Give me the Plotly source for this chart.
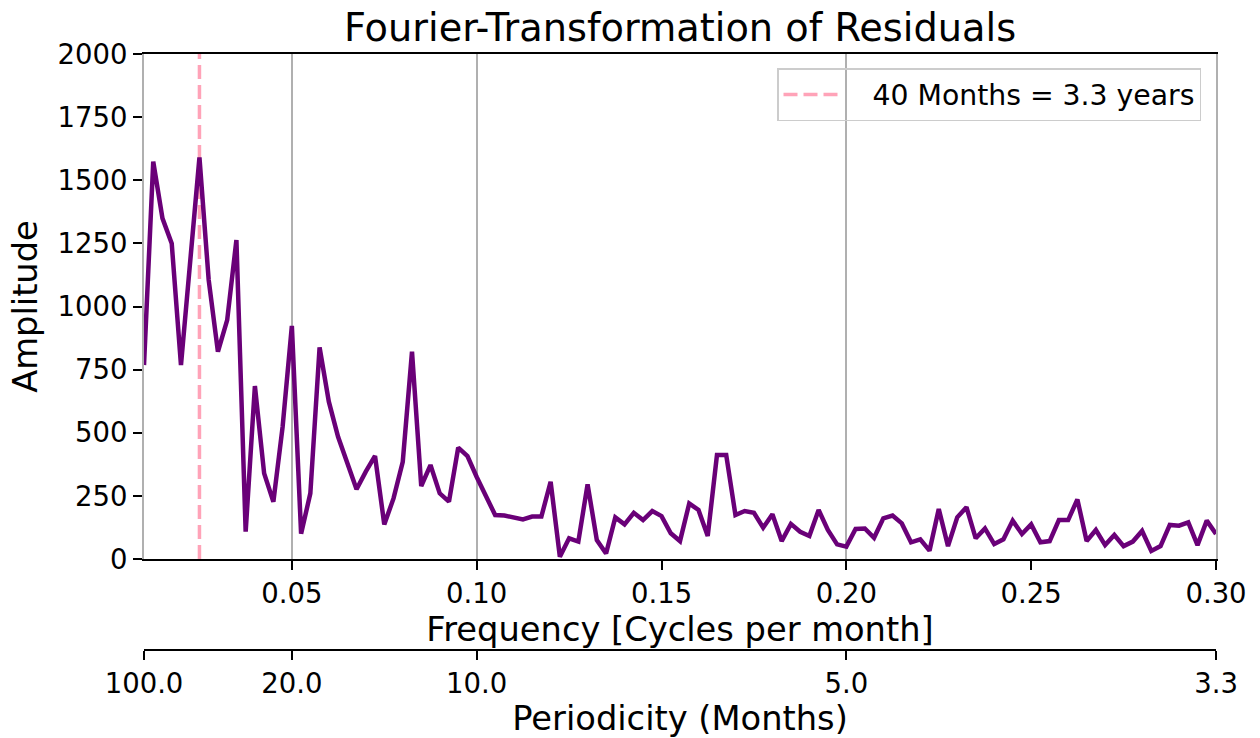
import plotly.graph_objects as go

# Frequency bins (cycles per month) of the residual spectrum
freq = [
    0.0100, 0.0125, 0.0150, 0.0175, 0.0200, 0.0225, 0.0250, 0.0275, 0.0300, 0.0325,
    0.0350, 0.0375, 0.0400, 0.0425, 0.0450, 0.0475, 0.0500, 0.0525, 0.0550, 0.0575,
    0.0600, 0.0625, 0.0650, 0.0675, 0.0700, 0.0725, 0.0750, 0.0775, 0.0800, 0.0825,
    0.0850, 0.0875, 0.0900, 0.0925, 0.0950, 0.0975, 0.1000, 0.1025, 0.1050, 0.1075,
    0.1100, 0.1125, 0.1150, 0.1175, 0.1200, 0.1225, 0.1250, 0.1275, 0.1300, 0.1325,
    0.1350, 0.1375, 0.1400, 0.1425, 0.1450, 0.1475, 0.1500, 0.1525, 0.1550, 0.1575,
    0.1600, 0.1625, 0.1650, 0.1675, 0.1700, 0.1725, 0.1750, 0.1775, 0.1800, 0.1825,
    0.1850, 0.1875, 0.1900, 0.1925, 0.1950, 0.1975, 0.2000, 0.2025, 0.2050, 0.2075,
    0.2100, 0.2125, 0.2150, 0.2175, 0.2200, 0.2225, 0.2250, 0.2275, 0.2300, 0.2325,
    0.2350, 0.2375, 0.2400, 0.2425, 0.2450, 0.2475, 0.2500, 0.2525, 0.2550, 0.2575,
    0.2600, 0.2625, 0.2650, 0.2675, 0.2700, 0.2725, 0.2750, 0.2775, 0.2800, 0.2825,
    0.2850, 0.2875, 0.2900, 0.2925, 0.2950, 0.2975, 0.3000,
]

# FFT amplitude at each frequency bin
amplitude = [
    768, 1574, 1349, 1250, 768, 1180, 1590, 1105, 821, 946,
    1263, 108, 685, 339, 227, 524, 923, 100, 260, 838,
    623, 484, 379, 276, 346, 408, 137, 240, 385, 821,
    289, 372, 260, 227, 441, 408, 325, 250, 174, 172,
    164, 157, 168, 168, 306, 9, 82, 69, 296, 75,
    22, 165, 137, 183, 154, 190, 170, 102, 71, 220,
    194, 91, 412, 412, 174, 190, 183, 124, 177, 71,
    139, 108, 91, 194, 115, 58, 49, 119, 121, 84,
    161, 172, 141, 66, 78, 33, 198, 51, 165, 205,
    82, 121, 59, 78, 152, 99, 137, 66, 71, 154,
    154, 236, 71, 115, 55, 95, 51, 69, 111, 32,
    51, 135, 132, 145, 55, 152, 99,
]

# Axis ticks
freq_ticks = [0.05, 0.10, 0.15, 0.20, 0.25, 0.30]
freq_tick_labels = ["0.05", "0.10", "0.15", "0.20", "0.25", "0.30"]
period_ticks = [0.01, 0.05, 0.10, 0.20, 0.30]
period_tick_labels = ["100.0", "20.0", "10.0", "5.0", "3.3"]
amp_ticks = [0, 250, 500, 750, 1000, 1250, 1500, 1750, 2000]

# Highlighted cycle
marked_period_months = 40
marked_label = "40 Months = 3.3 years"

FONT = "DejaVu Sans"
PURPLE = "#6a0078"
PINK = "#ffa3b8"
GRID = "#b0b0b0"
NBSP = "\u00a0"

fig = go.Figure()

marked_freq = 1 / marked_period_months
fig.add_trace(go.Scatter(
    x=[marked_freq, marked_freq], y=[amp_ticks[0], amp_ticks[-1]],
    mode="lines", name=NBSP * 3 + marked_label,
    line=dict(color=PINK, width=3.5, dash="14px,6px"),
    xaxis="x", yaxis="y",
))

fig.add_trace(go.Scatter(
    x=freq, y=amplitude, mode="lines", showlegend=False,
    line=dict(color=PURPLE, width=4.5),
    xaxis="x", yaxis="y",
))

# invisible trace so the periodicity axis is rendered
fig.add_trace(go.Scatter(
    x=freq, y=amplitude, mode="lines", showlegend=False, hoverinfo="skip",
    line=dict(color="rgba(0,0,0,0)", width=0),
    xaxis="x2", yaxis="y",
))

plot_top, plot_bottom, paper_bottom = 54, 559, 650
y_dom0 = (paper_bottom - plot_bottom) / (paper_bottom - plot_top)

fig.update_layout(
    width=1260, height=738,
    margin=dict(l=144, r=44, t=plot_top, b=738 - paper_bottom),
    paper_bgcolor="white", plot_bgcolor="white",
    font=dict(family=FONT, color="black", size=27),
    title=dict(
        text="Fourier-Transformation of Residuals",
        font=dict(family=FONT, size=38.3, color="black"),
        x=0.5, xref="paper", xanchor="center",
        y=1 - 28 / 738, yref="container", yanchor="middle",
    ),
    xaxis=dict(
        range=[0.01, 0.30], tickvals=freq_ticks, ticktext=freq_tick_labels,
        showgrid=False, zeroline=False, automargin=False,
        showline=True, linecolor="black", linewidth=2, mirror=True,
        ticks="outside", ticklen=9, tickwidth=2, tickcolor="black",
        tickfont=dict(size=27.5),
        anchor="y",
        title=dict(text="Frequency [Cycles per month]", font=dict(size=33.7), standoff=9),
    ),
    xaxis2=dict(
        range=[0.01, 0.30], tickvals=period_ticks, ticktext=period_tick_labels,
        overlaying="x", anchor="free", position=0, side="bottom",
        showgrid=True, gridcolor=GRID, gridwidth=2, zeroline=False, automargin=False,
        showline=True, linecolor="black", linewidth=2,
        ticks="outside", ticklen=9, tickwidth=2, tickcolor="black",
        tickfont=dict(size=27.5),
        title=dict(text="Periodicity (Months)", font=dict(size=33.7), standoff=8),
    ),
    yaxis=dict(
        domain=[y_dom0, 1], range=[0, 2000], tickvals=amp_ticks,
        showgrid=False, zeroline=False, automargin=False,
        showline=True, linecolor=GRID, linewidth=2, mirror=True,
        ticks="outside", ticklen=9, tickwidth=2, tickcolor="black",
        tickfont=dict(size=27.5),
        title=dict(text="Amplitude", font=dict(size=33.7), standoff=10),
    ),
    legend=dict(
        x=(1201 - 144) / 1072, xanchor="right",
        y=1 - (68 - 54) / 596, yanchor="top",
        bgcolor="rgba(255,255,255,0)", bordercolor="#cccccc", borderwidth=1.5,
        font=dict(family=FONT, size=28.3, color="black"),
        itemwidth=57,
    ),
)

fig.write_html("out.html")
